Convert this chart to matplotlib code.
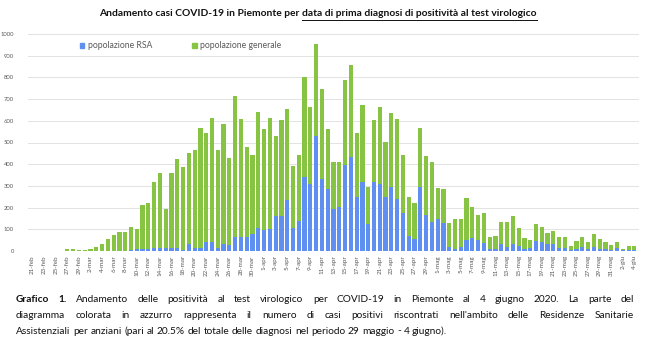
import numpy as np
import pandas as pd
import matplotlib
matplotlib.use('Agg')
import matplotlib.pyplot as plt
from matplotlib.lines import Line2D
from matplotlib.patches import Patch

plt.rcParams['font.family'] = ['Lato', 'DejaVu Sans']

# casi per giorno (21 feb - 4 giu 2020)
rsa = [0, 0, 0, 0, 0, 0, 0, 0, 0, 0,
       0, 0, 0, 0, 0, 0, 0, 5, 8, 8,
       10, 15, 15, 12, 12, 12, 5, 30, 15, 15,
       43, 43, 12, 32, 28, 63, 63, 66, 78, 105,
       97, 100, 162, 162, 235, 105, 140, 343, 309, 531,
       332, 286, 194, 205, 397, 431, 248, 317, 125, 317,
       309, 248, 294, 240, 177, 69, 54, 297, 165, 135,
       149, 131, 20, 8, 20, 51, 58, 51, 38, 8,
       8, 32, 20, 32, 23, 11, 12, 46, 40, 31,
       31, 12, 12, 5, 8, 20, 11, 20, 9, 8,
       6, 12, 5, 3, 3]
generale = [0, 0, 0, 0, 0, 0, 11, 11, 3, 3,
            7, 17, 30, 55, 72, 87, 88, 107, 95, 202,
            210, 301, 343, 182, 346, 411, 380, 421, 451, 551,
            500, 569, 454, 554, 400, 652, 545, 411, 365, 535,
            465, 512, 369, 440, 419, 287, 303, 460, 354, 423,
            414, 277, 215, 203, 389, 427, 295, 357, 172, 285,
            354, 254, 343, 368, 266, 182, 166, 269, 273, 276,
            140, 154, 108, 138, 129, 192, 144, 115, 139, 58,
            61, 100, 112, 131, 85, 47, 39, 77, 69, 51,
            60, 51, 51, 18, 40, 43, 32, 58, 46, 32,
            22, 30, 6, 19, 20]

mesi = {2: 'feb', 3: 'mar', 4: 'apr', 5: 'mag', 6: 'giu'}
giorni = pd.date_range('2020-02-21', '2020-06-04')
etichette = [f'{d.day}-{mesi[d.month]}' for d in giorni]

blu = '#5f8ff0'
verde = '#87c443'
grigio = '#595959'

W, H = 650, 360
fig = plt.figure(figsize=(6.5, 3.6), dpi=100)
ax = fig.add_axes([28 / W, 1 - 251 / H, 611 / W, 217 / H])

x = np.arange(len(rsa))
ax.bar(x, rsa, width=0.72, color=blu, zorder=2)
ax.bar(x, generale, bottom=rsa, width=0.72, color=verde, zorder=2)

ax.set_xlim(-0.8, len(x) - 0.2)
ax.set_ylim(0, 1000)
ax.set_yticks(np.arange(0, 1001, 100))
ax.yaxis.grid(True, color='#e3e3e3', linewidth=0.7, zorder=0)
ax.set_xticks(x[::2])
ax.set_xticklabels(etichette[::2], rotation=90, fontsize=4.5, color=grigio)
ax.tick_params(axis='y', labelsize=4.2, labelcolor=grigio, length=0, pad=10)
ax.tick_params(axis='x', length=0, pad=3)
for s in ax.spines.values():
    s.set_visible(False)

handles = [Patch(color=blu, label='popolazione RSA'),
           Patch(color=verde, label='popolazione generale')]
ax.legend(handles=handles, ncol=2, frameon=False, fontsize=6.2,
          labelcolor=grigio, handlelength=0.55, handleheight=0.55,
          handletextpad=0.4, columnspacing=4.6,
          loc='center left', bbox_to_anchor=(72 / W, 1 - 46 / H),
          bbox_transform=fig.transFigure)

# titolo con parte sottolineata
fig.canvas.draw()
r = fig.canvas.get_renderer()


def larghezza(t, **kw):
    tt = fig.text(0, 0, t, **kw)
    w = tt.get_window_extent(r).width
    tt.remove()
    return w


tkw = dict(fontsize=7.4, fontweight='bold', color='#111111')
p1 = 'Andamento casi COVID-19 in Piemonte per'
p2 = 'data di prima diagnosi di positività al test virologico'
sp = larghezza('a a', **tkw) - larghezza('aa', **tkw)
w1, w2 = larghezza(p1, **tkw), larghezza(p2, **tkw)
x0 = 318 - (w1 + sp + w2) / 2
yt = H - 14
fig.text(x0 / W, yt / H, p1, va='center', **tkw)
fig.text((x0 + w1 + sp) / W, yt / H, p2, va='center', **tkw)
fig.add_artist(Line2D([(x0 + w1 + sp) / W, (x0 + w1 + sp + w2) / W],
                      [(yt - 5.5) / H, (yt - 5.5) / H],
                      color='#111111', linewidth=0.7))

# didascalia giustificata
righe = [
    'Grafico 1. Andamento delle positività al test virologico per COVID-19 in Piemonte al 4 giugno 2020. La parte del',
    "diagramma colorata in azzurro rappresenta il numero di casi positivi riscontrati nell'ambito delle Residenze Sanitarie",
    'Assistenziali per anziani (pari al 20.5% del totale delle diagnosi nel periodo 29 maggio - 4 giugno).',
]
ckw = dict(fontsize=7.3, color='#111111')
xl, xr = 16, 634
ys = [H - 299, H - 315, H - 331]
for k, riga in enumerate(righe):
    parole = riga.split(' ')
    pesi = ['bold' if (k == 0 and j < 2) else 'normal' for j in range(len(parole))]
    ws = [larghezza(p, fontweight=pw, **ckw) for p, pw in zip(parole, pesi)]
    if k < 2:
        gap = (xr - xl - sum(ws)) / (len(parole) - 1)
    else:
        gap = larghezza('a a', **ckw) - larghezza('aa', **ckw)
    xp = xl
    for p, pw, w in zip(parole, pesi, ws):
        fig.text(xp / W, ys[k] / H, p, va='center', fontweight=pw, **ckw)
        xp += w + gap

fig.savefig('out.png', dpi=100)
